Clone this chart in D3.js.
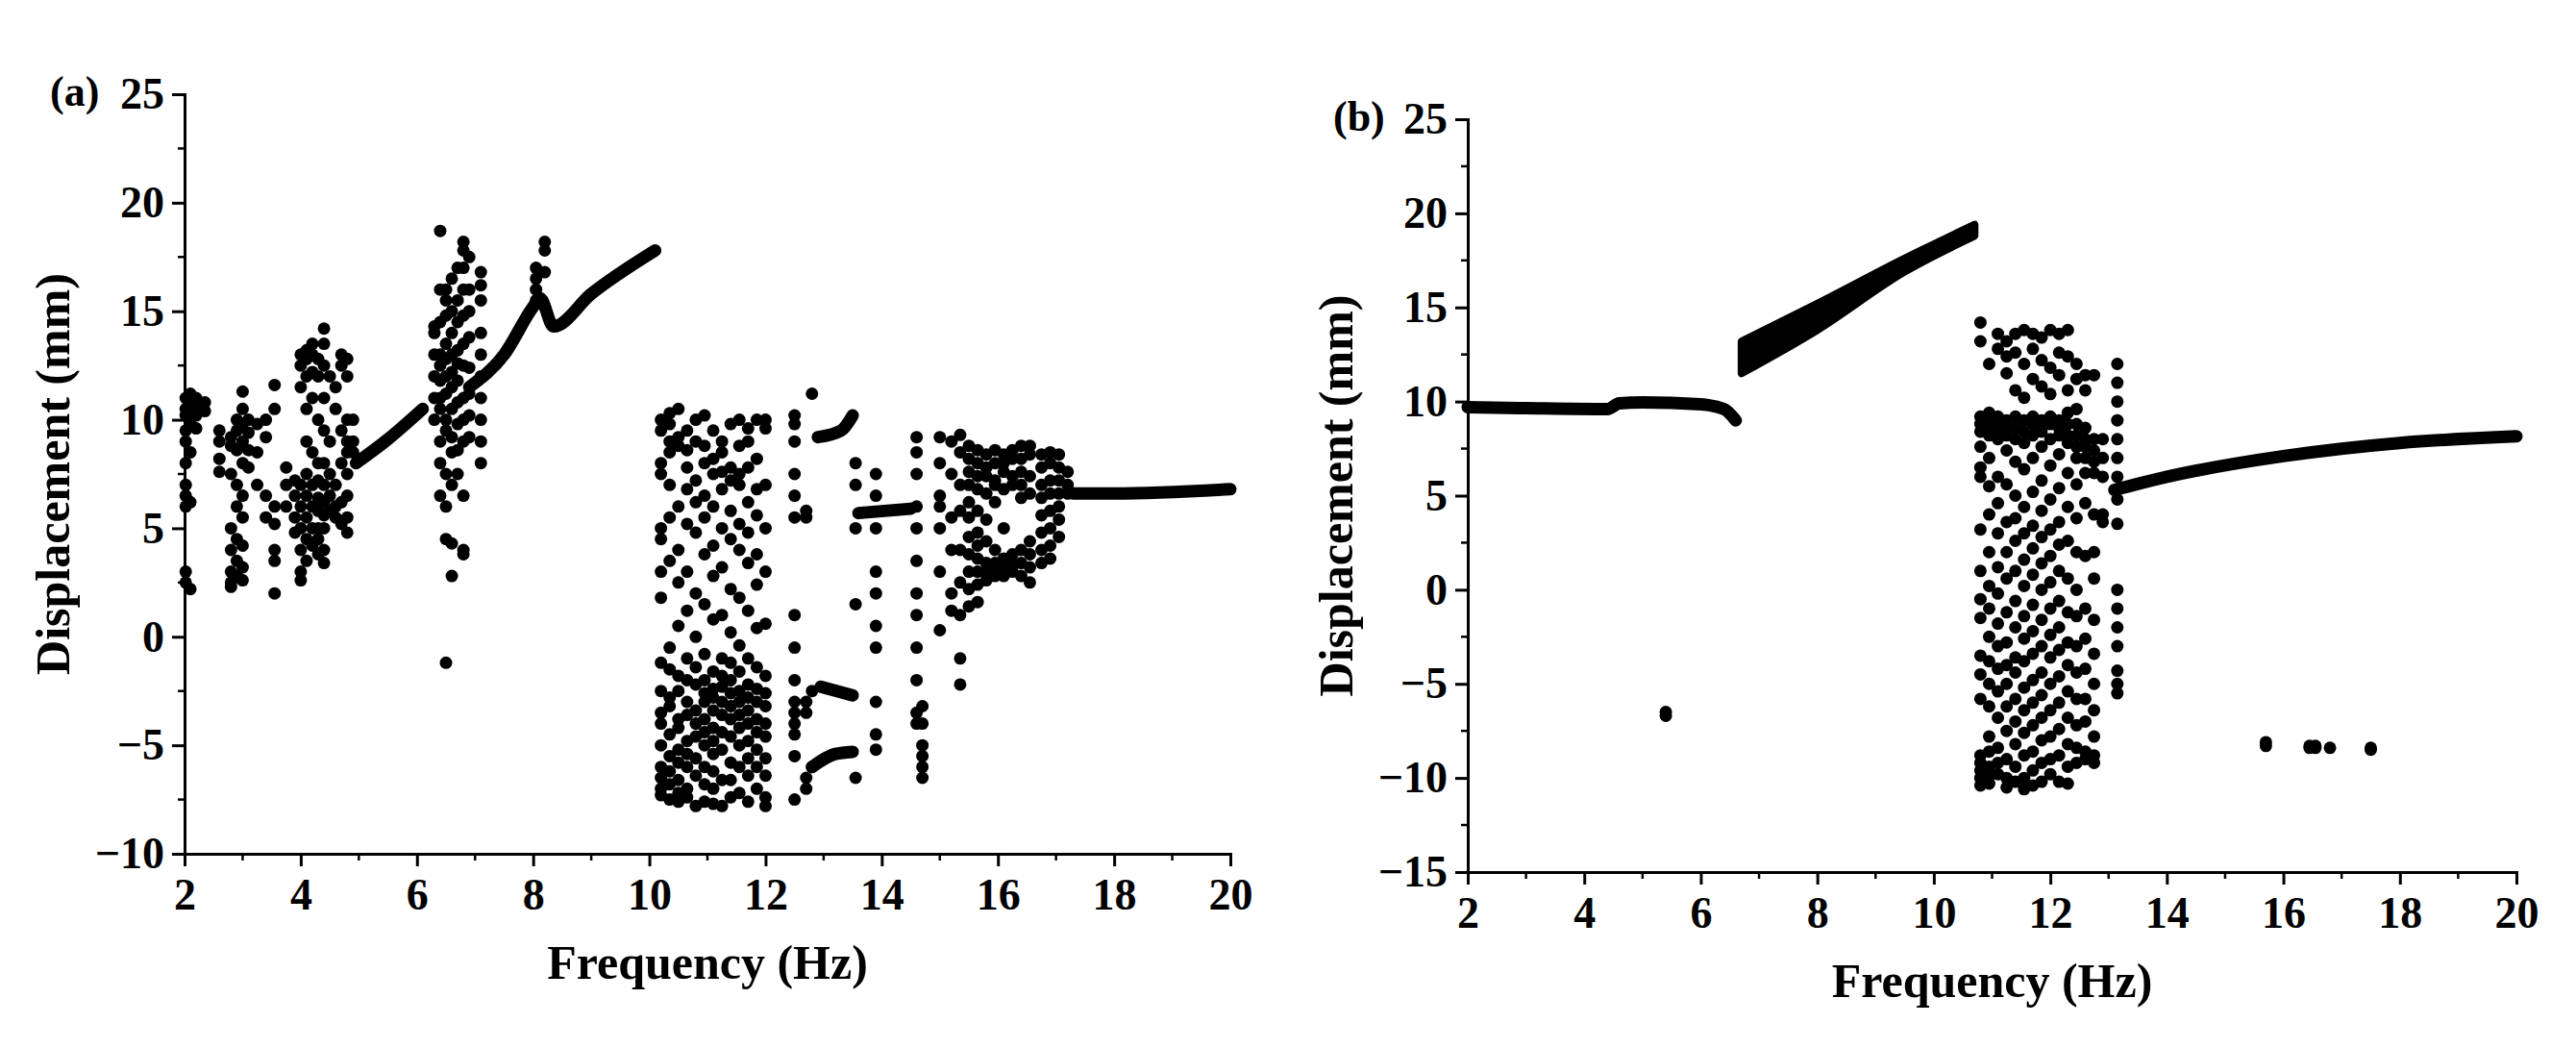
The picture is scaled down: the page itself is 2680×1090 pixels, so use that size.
<!DOCTYPE html>
<html><head><meta charset="utf-8">
<script src="https://cdn.jsdelivr.net/npm/d3@7"></script>
<style>body{margin:0;background:#fff}svg{display:block}</style>
</head><body>
<svg id="chart" width="2680" height="1090"></svg>
<script>
// ---- panel (a) data ----
const xTicks = [2, 4, 6, 8, 10, 12, 14, 16, 18, 20];
const yTicksA = [-10, -5, 0, 5, 10, 15, 20, 25];
const yTicksB = [-15, -10, -5, 0, 5, 10, 15, 20, 25];

const branchesA = [
  [[4.95, 8.0], [5.5, 9.1], [6.1, 10.5]],
  [[6.9, 11.5], [7.5, 13.0], [8.0, 15.2], [8.12, 15.6], [8.35, 14.3], [9.0, 15.8], [10.1, 17.8]],
  [[17.3, 6.6], [18.0, 6.6], [20.0, 6.8]],
  [[13.6, 5.7], [14.5, 5.9]],
  [[12.9, 9.2], [13.3, 9.5], [13.5, 10.2]],
  [[12.95, -2.3], [13.5, -2.7]],
  [[12.8, -6.0], [13.2, -5.4], [13.5, -5.3]]
];

const columnsA = [
  [2.02, [11, 10.5, 9, 8, 7, 6.5, 6, 3, 2.5, 10.2, 9.5]],
  [2.1, [11.2, 10.8, 10.3, 9.8, 8.5, 6.2, 2.2]],
  [2.2, [11, 10.6, 10.2, 9.6]],
  [2.35, [10.8, 10.4]],
  [2.6, [9.5, 9, 8.2, 7.6]],
  [2.8, [9.2, 8.8, 7.5, 5, 4, 3, 2.5, 2.3]],
  [2.9, [10, 9.5, 8.6, 7, 6, 4.5, 3.5, 2.8]],
  [3.0, [11.3, 10.5, 9.8, 9, 8, 6.5, 5.5, 4.2, 3.2, 2.6]],
  [3.1, [10, 9.4, 8.6, 7.8]],
  [3.25, [9.8, 8.5, 7]],
  [3.4, [10, 9.2, 6.5, 5.5]],
  [3.55, [11.6, 10.5, 6, 5.2, 4, 3.5, 2]],
  [3.75, [7.8, 7, 6]],
  [3.9, [7.2, 6.5, 5.5, 4.8]],
  [4.0, [13, 12.5, 11.5, 7, 6, 5, 4, 3, 2.6]],
  [4.1, [13.2, 12.8, 12, 10.5, 9, 7.5, 6.5, 5.5, 4.5, 3.5]],
  [4.2, [13.5, 13, 12.2, 11, 8.5, 7, 6, 5, 4.2]],
  [4.3, [12.8, 12, 10, 8, 7.2, 6.4, 5.8, 5, 4.5, 3.8]],
  [4.4, [14.2, 13.5, 12.5, 11, 9.5, 8, 7, 6.2, 5.6, 5, 4, 3.4]],
  [4.5, [12, 9, 7.5, 6.5, 5.8]],
  [4.6, [11.5, 10.5, 7, 6, 5.5]],
  [4.7, [13, 12.5, 9.5, 8, 6.2, 5.2]],
  [4.8, [12.8, 12, 10, 9, 8.5, 7.5, 6.5, 5.5, 4.8]],
  [4.9, [10, 9, 8.5]],
  [6.3, [14.3, 14, 13, 12, 11, 10]],
  [6.4, [18.7, 16, 14.5, 13, 12.5, 11.8, 11, 10.5, 9, 8, 6.5]],
  [6.5, [16, 15.5, 14.8, 13.5, 12.8, 12, 11.2, 10, 9.5, 7.5, 6, 4.5, -1.2]],
  [6.6, [16.5, 15, 14, 13, 12.2, 11.5, 10.5, 9.2, 8.5, 7, 4.3, 2.8]],
  [6.7, [17, 15.5, 14.5, 13.2, 12.6, 11.8, 10.8, 9.8, 8.6, 7.5]],
  [6.8, [18.2, 17.8, 17, 16, 14.8, 13.5, 12.5, 11, 10, 9, 6.5, 4, 3.8]],
  [6.9, [17.5, 16, 15, 13.8, 12.4, 11.2, 10.2, 9.2]],
  [7.1, [16.8, 16.2, 15.5, 14, 13, 12, 11, 10, 9, 8]],
  [8.05, [17, 16.5, 16, 15.5]],
  [8.2, [18.2, 17.8, 16.8]],
  [10.2, [10, 9.5, 8, 7.5, 5, 4.5, 3, 1.8, -1.2, -2.5, -3.5, -4, -5, -6, -6.5, -7, -7.3]],
  [10.35, [10.3, 9.8, 9, 8.5, 7, 5.5, 3.5, -0.5, -1.5, -2.8, -3.2, -4.5, -5.5, -6.2, -6.8, -7.5]],
  [10.5, [10.5, 9.2, 8.8, 6, 4, 2.5, 0.5, -1.8, -2.5, -3.8, -4.2, -5.2, -5.8, -6.6, -7.2, -7.6]],
  [10.65, [9.5, 8.6, 7.8, 6.8, 5.2, 3, 1.2, -1, -2, -3, -3.6, -4.8, -5.4, -6, -7, -7.4]],
  [10.8, [10, 9, 7.2, 6.2, 4.8, 2, 0, -1.4, -2.2, -3.4, -4, -4.6, -5.6, -6.4, -7.8]],
  [10.95, [10.2, 8.8, 8, 6.5, 5.5, 3.8, 1.5, -0.8, -2, -2.6, -3, -3.8, -4.4, -5, -6, -6.8, -7.6]],
  [11.1, [9.5, 8.2, 7.5, 6, 4.2, 2.8, 0.8, -1.6, -2.4, -2.8, -3.4, -4.2, -4.8, -5.4, -6.2, -7, -7.7]],
  [11.25, [9, 8.5, 7.6, 6.8, 5, 3.2, 1, -1, -1.8, -2.3, -3, -3.6, -4.4, -5.2, -6.6, -7.8]],
  [11.4, [9.8, 7.8, 7.2, 5.8, 4.5, 2.2, 0.2, -1.2, -2, -2.6, -3.2, -3.8, -4.6, -5.8, -6.6, -7.4]],
  [11.55, [10, 8.8, 7.5, 7, 5.2, 4, 1.8, -0.4, -1.6, -2.5, -3, -3.6, -4.2, -5, -6, -7.2]],
  [11.7, [9.6, 9, 7.8, 6.2, 4.8, 3.4, 1.2, -1, -2.2, -2.8, -3.4, -4, -4.8, -5.6, -6.4, -7.6]],
  [11.85, [10, 8.2, 6.8, 5.6, 3.8, 2.4, 0.4, -1.4, -2.4, -3, -3.8, -4.4, -5.2, -6, -7]],
  [12.0, [10, 9.6, 7, 5, 3, 0.6, -1.8, -2.6, -3.2, -4, -4.6, -5.6, -6.4, -7.4, -7.8]],
  [12.5, [10.2, 9.8, 9, 7.5, 6.5, 5.5, 1, -0.5, -2, -3, -3.5, -4, -4.5, -5.5, -7.5]],
  [12.7, [5.8, 5.5, -3, -3.5, -7, -6.5]],
  [12.8, [11.2, -2.5, -6]],
  [13.55, [8, 7, 5, 1.5, -6.5]],
  [13.9, [7.5, 6.5, 5, 3, 2, 0.5, -0.5, -3, -4.5, -5.2]],
  [14.6, [9.2, 8.5, 7.5, 6, 5, 3.5, 2, 1, -0.5, -2, -3.5, -4]],
  [14.7, [-3.2, -4, -5, -5.5, -6, -6.5]],
  [15.0, [9.2, 8, 6.5, 6, 5, 3, 0.3]],
  [15.2, [9, 7.5, 5.5, 4, 2, 1.2]],
  [15.35, [9.3, 8.5, 7, 5.8, 4, 2.5, 1, -1, -2.2]],
  [15.5, [8.8, 8.2, 7.6, 7, 6.2, 5.5, 4.6, 3.8, 3, 2.2, 1.4]],
  [15.65, [8.6, 8, 7.4, 6.8, 5.8, 4.8, 4.2, 3.6, 3, 2.4, 1.6]],
  [15.8, [8.4, 7.8, 7.4, 6.6, 5.4, 4.4, 3.4, 3, 2.6]],
  [15.95, [8.6, 8, 7.2, 7, 6.2, 4, 3.4, 3, 2.8]],
  [16.1, [8.4, 8, 7.6, 6.8, 5, 3.6, 3.2, 2.8]],
  [16.25, [8.6, 8.2, 7.4, 7, 3.8, 3.4, 3]],
  [16.4, [8.8, 8.2, 7.6, 7, 6.4, 4, 3.4, 2.8]],
  [16.55, [8.8, 8.4, 7.4, 6.6, 4.4, 3.8, 3.2, 2.5]],
  [16.75, [8.4, 7.8, 7, 6.4, 5.6, 4.8, 4, 3.4]],
  [16.9, [8.5, 8, 7.2, 6.6, 5.8, 5, 4.2, 3.6]],
  [17.05, [8.4, 7.8, 7.2, 6.6, 6, 5.4, 4.6]],
  [17.2, [7.6, 7, 6.6]]
];

// ---- panel (b) data ----
const branchesB = [
  [[2.0, 9.7], [3.0, 9.65], [4.4, 9.6], [4.6, 9.9], [5.0, 9.95], [6.0, 9.85], [6.4, 9.6], [6.6, 9.0]],
  [[13.1, 5.3], [14.0, 6.0], [16.0, 7.1], [18.0, 7.8], [20.0, 8.15]]
];
const bandBUpper = [[6.7, 13.2], [8.0, 15.2], [9.5, 17.6], [10.7, 19.4]];
const bandBLower = [[6.7, 11.5], [8.0, 13.8], [9.5, 16.9], [10.7, 18.8]];

const columnsB = [
  [5.4, [-6.5, -6.7]],
  [15.7, [-8.1, -8.3]],
  [16.45, [-8.3, -8.4]],
  [16.55, [-8.3, -8.4]],
  [16.8, [-8.4]],
  [17.5, [-8.4, -8.5]],
  [10.8, [14.2, 13.2, 9.2, 8.8, 8.4, 7.6, 6.5, 6, 3.2, 1, -0.5, -1.5, -3.5, -4.5, -5.8, -8.8, -9.2, -9.6, -10, -10.4]],
  [10.95, [12, 9.4, 9, 8.6, 8.2, 7, 5.5, 4, 2, 0.2, -1, -2.5, -3.8, -5, -6.2, -7.8, -8.6, -9.4, -9.9, -10.3]],
  [11.1, [13.6, 12.8, 9.2, 8.8, 8.4, 8, 6, 4.6, 3, 1.2, -0.2, -1.8, -3, -4.2, -5.4, -6.8, -8.4, -9.2, -9.8]],
  [11.25, [13.2, 12.4, 11.5, 9, 8.6, 8.2, 7.4, 5.6, 3.6, 2, 0.6, -1.2, -2.8, -4, -5, -6.2, -7.5, -9, -10, -10.5]],
  [11.4, [13.6, 12.6, 10.6, 9.2, 8.6, 8, 6.8, 5, 3.8, 2.6, 1, -0.6, -2, -3.6, -4.4, -5.8, -7, -8.2, -9.4, -10.2]],
  [11.55, [13.8, 12, 10.2, 9, 8.4, 7.8, 6.4, 4.4, 3, 1.6, 0.2, -1.4, -2.6, -3.8, -5.2, -6.4, -7.6, -8.8, -10, -10.6]],
  [11.7, [13.6, 12.8, 11.2, 9.2, 8.8, 8.2, 7, 5.2, 3.4, 2.2, 0.8, -0.8, -2.2, -3.4, -4.8, -6, -7.2, -8.6, -9.6, -10.4]],
  [11.85, [13.4, 12.2, 10.8, 9, 8.6, 8.4, 7.6, 5.8, 4.2, 2.8, 1.4, 0, -1.6, -3, -4.4, -5.6, -6.8, -8, -9.2, -10.2]],
  [12.0, [13.8, 11.8, 10.4, 9.2, 8.8, 8, 6.6, 4.8, 3.2, 1.8, 0.4, -1, -2.4, -3.6, -5, -6.4, -7.8, -9, -9.8]],
  [12.15, [13.6, 12.6, 11.4, 9, 8.6, 8.2, 7.2, 5.4, 3.6, 2.4, 1, -0.6, -2, -3.2, -4.6, -6, -7.4, -8.8, -10.2]],
  [12.3, [13.8, 12.4, 10.6, 9.4, 8.8, 8.2, 7.8, 6.2, 4.4, 2.6, 0.6, -1.2, -2.8, -4, -5.4, -6.8, -8.2, -9.4, -10.3]],
  [12.45, [12, 11.2, 9.6, 8.8, 8.2, 7.6, 7, 5.6, 3.8, 2, 0, -1.4, -3, -4.4, -5.8, -7.2, -8.4, -9.2]],
  [12.6, [11.4, 10.6, 8.6, 8, 7.6, 7, 6.2, 4.6, 1.8, -1, -2.6, -4.2, -5.8, -7, -8.6, -9]],
  [12.75, [11.4, 8, 7.4, 6.8, 6.2, 4, 2, 0.6, -1.6, -3.4, -5, -6.4, -7.8, -8.8, -9.2]],
  [12.9, [8, 7, 6, 4, 3.6]],
  [13.15, [12, 11, 10, 9, 8, 7, 6, 4.8, 3.5, 0, -1, -2, -3, -4.3, -5, -5.5]]
];

const svg = d3.select('#chart');
const font = '"Liberation Serif", "Times New Roman", serif';

function drawPanel(cfg) {
  const x = d3.scaleLinear().domain([2, 20]).range([cfg.left, cfg.right]);
  const y = d3.scaleLinear().domain(cfg.yDomain).range([cfg.bottom, cfg.top]);
  const g = svg.append('g');

  // minor ticks
  const xMinor = d3.range(3, 20, 2);
  const yMinor = d3.range(cfg.yDomain[0] + 2.5, cfg.yDomain[1], 5);
  g.selectAll('line.xm').data(xMinor).enter().append('line')
    .attr('x1', (d) => x(d)).attr('x2', (d) => x(d))
    .attr('y1', cfg.bottom).attr('y2', cfg.bottom + 7)
    .attr('stroke', '#000').attr('stroke-width', 2.5);
  g.selectAll('line.ym').data(yMinor).enter().append('line')
    .attr('x1', cfg.left).attr('x2', cfg.left - 7)
    .attr('y1', (d) => y(d)).attr('y2', (d) => y(d))
    .attr('stroke', '#000').attr('stroke-width', 2.5);

  const xAxis = g.append('g')
    .attr('transform', `translate(0,${cfg.bottom})`)
    .call(d3.axisBottom(x).tickValues(xTicks).tickSize(13).tickPadding(12));
  const yAxis = g.append('g')
    .attr('transform', `translate(${cfg.left},0)`)
    .call(d3.axisLeft(y).tickValues(cfg.yTicks).tickSize(13).tickPadding(8)
      .tickFormat((d) => d < 0 ? '\u2212' + Math.abs(d) : d));
  [xAxis, yAxis].forEach((a) => {
    a.selectAll('path, line').attr('stroke', '#000').attr('stroke-width', 3);
    a.selectAll('text').attr('font-family', font).attr('font-weight', 'bold')
      .attr('font-size', 46).attr('fill', '#000');
  });

  const line = d3.line().x((d) => x(d[0])).y((d) => y(d[1])).curve(d3.curveMonotoneX);
  g.selectAll('path.branch').data(cfg.branches).enter().append('path')
    .attr('d', line).attr('fill', 'none').attr('stroke', '#000')
    .attr('stroke-width', 13).attr('stroke-linecap', 'round');

  if (cfg.band) {
    const area = d3.area()
      .x((d) => x(d[0])).y0((d, i) => y(cfg.band[1][i][1])).y1((d) => y(d[1]))
      .curve(d3.curveMonotoneX);
    g.append('path').datum(cfg.band[0]).attr('d', area)
      .attr('fill', '#000').attr('stroke', '#000').attr('stroke-width', 8)
      .attr('stroke-linejoin', 'round');
  }

  const pts = cfg.columns.flatMap((c) => c[1].map((v) => [c[0], v]));
  g.selectAll('circle').data(pts).enter().append('circle')
    .attr('cx', (d) => x(d[0])).attr('cy', (d) => y(d[1]))
    .attr('r', 6.5).attr('fill', '#000');

  g.append('text').attr('x', (cfg.left + cfg.right) / 2).attr('y', cfg.bottom + 130)
    .attr('text-anchor', 'middle').attr('font-family', font).attr('font-weight', 'bold')
    .attr('font-size', 50).text('Frequency (Hz)');
  g.append('text')
    .attr('transform', `translate(${cfg.left - 120},${(cfg.top + cfg.bottom) / 2}) rotate(-90)`)
    .attr('text-anchor', 'middle').attr('font-family', font).attr('font-weight', 'bold')
    .attr('font-size', 50).text('Displacement (mm)');
  g.append('text').attr('x', cfg.left - 140).attr('y', cfg.top + 12)
    .attr('font-family', font).attr('font-weight', 'bold')
    .attr('font-size', 44).text(cfg.label);
}

drawPanel({
  left: 192, right: 1280, top: 98, bottom: 888,
  yDomain: [-10, 25], yTicks: yTicksA,
  branches: branchesA, columns: columnsA, label: '(a)'
});
drawPanel({
  left: 1527, right: 2618, top: 124, bottom: 907,
  yDomain: [-15, 25], yTicks: yTicksB,
  branches: branchesB, band: [bandBUpper, bandBLower], columns: columnsB, label: '(b)'
});
</script>
</body></html>
